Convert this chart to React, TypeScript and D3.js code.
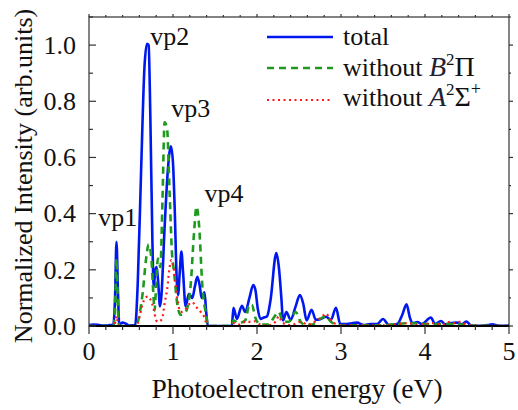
import React from "react";
import * as d3 from "d3";

const totalE = [0, 0.05, 0.1, 0.15, 0.2, 0.25, 0.29, 0.31, 0.327, 0.345, 0.36, 0.4, 0.44, 0.48, 0.55, 0.58, 0.62, 0.66, 0.69, 0.71, 0.73, 0.755, 0.77, 0.79, 0.805, 0.825, 0.845, 0.86, 0.9, 0.94, 0.975, 1.0, 1.02, 1.045, 1.06, 1.08, 1.1, 1.12, 1.15, 1.19, 1.23, 1.26, 1.29, 1.32, 1.34, 1.375, 1.395, 1.415, 1.7, 1.72, 1.76, 1.82, 1.86, 1.91, 1.955, 1.98, 2.01, 2.04, 2.08, 2.12, 2.16, 2.23, 2.26, 2.29, 2.31, 2.35, 2.4, 2.46, 2.51, 2.55, 2.59, 2.65, 2.7, 2.76, 2.82, 2.88, 2.94, 2.99, 3.07, 3.13, 3.19, 3.27, 3.35, 3.43, 3.5, 3.57, 3.67, 3.73, 3.78, 3.82, 3.85, 3.91, 3.96, 4.07, 4.12, 4.19, 4.24, 4.3, 4.38, 4.44, 4.49, 4.55, 4.66, 4.75, 4.8, 4.88, 5.0];
const totalI = [0.003, 0.005, 0.004, 0.002, 0.002, 0.003, 0.004, 0.1, 0.3, 0.12, 0.005, 0.012, 0.008, 0.002, 0.003, 0.15, 0.55, 0.92, 1.005, 1.0, 0.75, 0.3, 0.14, 0.2, 0.21, 0.15, 0.07, 0.1, 0.35, 0.56, 0.64, 0.58, 0.42, 0.16, 0.11, 0.19, 0.265, 0.19, 0.07, 0.115, 0.1, 0.14, 0.175, 0.14, 0.1, 0.12, 0.05, 0.0, 0.0, 0.065, 0.025, 0.072, 0.05, 0.1, 0.146, 0.13, 0.06, 0.025, 0.03, 0.035, 0.09, 0.26, 0.21, 0.1, 0.02, 0.05, 0.022, 0.07, 0.11, 0.08, 0.02, 0.058, 0.022, 0.025, 0.033, 0.022, 0.065, 0.008, 0.007, 0.01, 0.012, 0.003, 0.007, 0.007, 0.025, 0.003, 0.007, 0.04, 0.077, 0.03, 0.01, 0.014, 0.007, 0.03, 0.007, 0.018, 0.006, 0.01, 0.012, 0.006, 0.016, 0.002, 0.001, 0.003, 0.006, 0.001, 0.002];

const noBE = [0, 0.29, 0.31, 0.327, 0.345, 0.36, 0.56, 0.6, 0.64, 0.68, 0.71, 0.74, 0.765, 0.78, 0.8, 0.82, 0.85, 0.875, 0.9, 0.93, 0.96, 0.99, 1.01, 1.05, 1.09, 1.15, 1.21, 1.25, 1.28, 1.31, 1.35, 1.4, 1.415, 1.7, 1.72, 1.78, 1.86, 1.91, 1.94, 1.98, 2.04, 2.14, 2.2, 2.26, 2.31, 2.38, 2.46, 2.52, 2.58, 2.66, 2.72, 2.78, 2.82, 2.88, 2.94, 3.0, 3.5, 3.8, 4.1, 4.3, 4.4, 4.6, 5.0];
const noBI = [0, 0, 0.06, 0.24, 0.06, 0, 0, 0.04, 0.12, 0.24, 0.29, 0.25, 0.12, 0.055, 0.15, 0.24, 0.21, 0.45, 0.725, 0.7, 0.47, 0.25, 0.2, 0.08, 0.04, 0.05, 0.145, 0.33, 0.425, 0.36, 0.14, 0.03, 0, 0, 0.02, 0.01, 0.02, 0.077, 0.075, 0.03, 0.005, 0.005, 0.03, 0.05, 0.015, 0.015, 0.05, 0.015, 0.003, 0.005, 0.02, 0.03, 0.035, 0.015, 0.005, 0.002, 0.003, 0.01, 0.007, 0.007, 0.006, 0.001, 0];

const noAE = [0, 0.3, 0.327, 0.35, 0.56, 0.6, 0.63, 0.67, 0.7, 0.73, 0.77, 0.8, 0.82, 0.87, 0.9, 0.93, 0.96, 0.98, 1.01, 1.05, 1.09, 1.15, 1.2, 1.23, 1.27, 1.33, 1.375, 1.41, 1.7, 1.72, 1.8, 1.86, 1.94, 1.98, 2.04, 2.12, 2.22, 2.26, 2.3, 2.4, 2.52, 2.6, 2.7, 2.78, 2.82, 2.86, 2.92, 3.0, 3.5, 3.8, 3.9, 4.1, 4.2, 4.3, 4.35, 4.42, 4.5, 4.6, 5.0];
const noAI = [0, 0, 0.035, 0, 0, 0.03, 0.07, 0.1, 0.105, 0.095, 0.06, 0.02, 0.015, 0.025, 0.08, 0.13, 0.21, 0.235, 0.2, 0.1, 0.05, 0.06, 0.08, 0.085, 0.07, 0.05, 0.03, 0, 0, 0.01, 0.005, 0.015, 0.015, 0.017, 0.005, 0.001, 0.015, 0.035, 0.012, 0.003, 0.015, 0.005, 0.017, 0.035, 0.045, 0.03, 0.01, 0.002, 0.002, 0.01, 0.004, 0.01, 0.005, 0.015, 0.01, 0.015, 0.004, 0.001, 0];

const xTicks = [0, 1, 2, 3, 4, 5];
const yTicks = [0, 0.2, 0.4, 0.6, 0.8, 1.0];
const peakLabels = ["vp1", "vp2", "vp3", "vp4"];
const peakE = [0.11, 0.73, 0.98, 1.375];
const peakI = [0.355, 1.0, 0.745, 0.44];

const W = 518, H = 410;
const L = 89, R = 509, T = 17, B = 326;
const FONT = "Liberation Serif, Times New Roman, Times, DejaVu Serif, serif";
const ts: React.CSSProperties = { fontFamily: FONT };

export default function App() {
  const x = d3.scaleLinear().domain([0, 5]).range([L, R]);
  const y = d3.scaleLinear().domain([0, 1.1]).range([B, T]);
  const mk = (E: number[], I: number[]) =>
    d3.line<number>().x((_, i) => x(E[i])).y((_, i) => y(I[i])).curve(d3.curveMonotoneX)(I) || "";

  const xMinor = d3.range(0, 5.0001, 0.2);
  const yMinor = d3.range(0, 1.1001, 0.1);

  return (
    <svg width={W} height={H} style={{ position: "absolute", left: 0, top: 0, background: "#fff", fontFamily: FONT }}>
      <defs>
        <clipPath id="plotclip"><rect x={L} y={T} width={R - L} height={B - T} /></clipPath>
      </defs>
      <g clipPath="url(#plotclip)" fill="none" strokeLinejoin="round">
        <path d={mk(totalE, totalI)} stroke="#0018f0" strokeWidth={2.6} />
        <path d={mk(noBE, noBI)} stroke="#1f9a1f" strokeWidth={2.6} strokeDasharray="7,5" />
        <path d={mk(noAE, noAI)} stroke="#ff1a1a" strokeWidth={2.2} strokeDasharray="2,3.5" />
      </g>
      <rect x={L} y={T} width={R - L} height={B - T} fill="none" stroke="#333" strokeWidth={1.2} />
      <line x1={L} x2={R} y1={B} y2={B} stroke="#000" strokeWidth={2} />
      {xMinor.map((v, i) => {
        const major = Math.abs(v - Math.round(v)) < 1e-6;
        return (
          <g key={"xt" + i} stroke="#333" strokeWidth={1.2}>
            <line x1={x(v)} x2={x(v)} y1={B} y2={B + (major ? 8 : 4)} />
            <line x1={x(v)} x2={x(v)} y1={T} y2={T - (major ? 3 : 2)} />
          </g>
        );
      })}
      {yMinor.map((v, i) => {
        const major = i % 2 === 0;
        return (
          <g key={"yt" + i} stroke="#333" strokeWidth={1.2}>
            <line x1={L} x2={L + (major ? 7 : 4)} y1={y(v)} y2={y(v)} />
            <line x1={R} x2={R + (major ? 4 : 2)} y1={y(v)} y2={y(v)} />
          </g>
        );
      })}
      {xTicks.map((v) => (
        <text key={"xl" + v} style={ts} x={x(v)} y={360} textAnchor="middle" fontSize={26} fill="#111">{v}</text>
      ))}
      {yTicks.map((v) => (
        <text key={"yl" + v} style={ts} x={76} y={y(v)} dy="0.34em" textAnchor="end" fontSize={26} fill="#111">{v.toFixed(1)}</text>
      ))}
      <text style={ts} x={297} y={398} textAnchor="middle" fontSize={27.5} fill="#111">Photoelectron energy (eV)</text>
      <text style={ts} transform={`translate(32,176) rotate(-90)`} textAnchor="middle" fontSize={26} fill="#111">Normalized Intensity (arb.units)</text>
      {peakLabels.map((s, i) => (
        <text key={s} style={ts} x={x(peakE[i])} y={y(peakI[i])} fontSize={26} fill="#111">{s}</text>
      ))}
      <g fontSize={26} fill="#111" style={ts}>
        <line x1={267} x2={333} y1={37} y2={37} stroke="#0018f0" strokeWidth={2.6} />
        <text style={ts} x={343} y={45}>total</text>
        <line x1={267} x2={333} y1={68} y2={68} stroke="#1f9a1f" strokeWidth={2.6} strokeDasharray="7,5" />
        <text style={ts} x={343} y={76}>without <tspan fontStyle="italic" fontSize={28} fill="#223">B</tspan><tspan fontSize={17} dy={-11}>2</tspan><tspan fontSize={28} dy={11}>Π</tspan></text>
        <line x1={267} x2={333} y1={100} y2={100} stroke="#ff1a1a" strokeWidth={2.2} strokeDasharray="2,3.5" />
        <text style={ts} x={343} y={106}>without <tspan fontStyle="italic" fontSize={28} fill="#223">A</tspan><tspan fontSize={17} dy={-11}>2</tspan><tspan fontSize={28} dy={11}>Σ</tspan><tspan fontSize={18} dy={-11}>+</tspan></text>
      </g>
    </svg>
  );
}
